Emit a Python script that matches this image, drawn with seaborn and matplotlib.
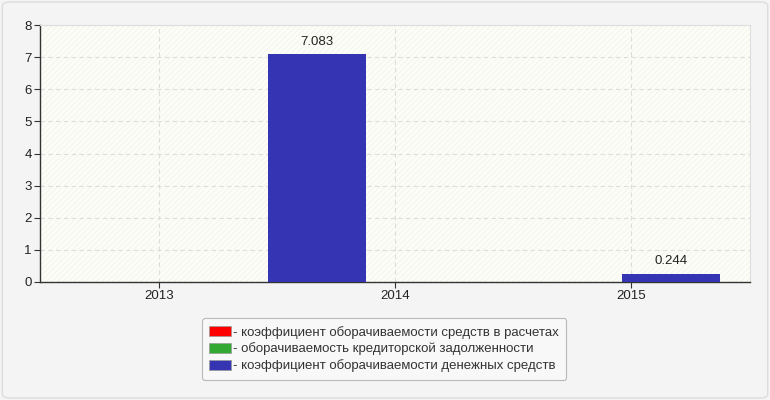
import matplotlib
matplotlib.use("Agg")
import matplotlib.pyplot as plt
from matplotlib.patches import Rectangle, FancyBboxPatch
import seaborn as sns
import pandas as pd

years = ["2013", "2014", "2015"]
series_names = [
    "- коэффициент оборачиваемости средств в расчетах",
    "- оборачиваемость кредиторской задолженности",
    "- коэффициент оборачиваемости денежных средств",
]
receivables_turnover = [0.0, 0.0, 0.0]
payables_turnover = [0.0, 0.0, 0.0]
cash_turnover = [0.0, 7.083, 0.244]
colors = ["#ff0000", "#33a933", "#3535b3"]

rows = []
for name, vals in zip(series_names, [receivables_turnover, payables_turnover, cash_turnover]):
    for y, v in zip(years, vals):
        rows.append({"year": y, "series": name, "value": v})
df = pd.DataFrame(rows)

sns.set_theme(style="white")
plt.rcParams["font.family"] = ["Liberation Sans", "DejaVu Sans"]
plt.rcParams["hatch.linewidth"] = 0.4

fig = plt.figure(figsize=(7.7, 4.0), dpi=100, facecolor="#f4f4f4")
fig.patches.append(FancyBboxPatch((0.003, 0.005), 0.994, 0.99, boxstyle="round,pad=0,rounding_size=0.01",
                                  transform=fig.transFigure, facecolor="#f4f4f4", edgecolor="#dcdcdc",
                                  lw=1, zorder=-10))
ax = fig.add_axes([0.052, 0.295, 0.922, 0.6425])
ax.set_facecolor("none")
ax.add_patch(Rectangle((0, 0), 1, 1, transform=ax.transAxes, facecolor="#fdfdf7",
                       edgecolor="#efefe9", hatch="//////", lw=0, zorder=-5))

sns.barplot(data=df, x="year", y="value", hue="series", hue_order=series_names,
            palette=colors, saturation=1, dodge=False, width=0.415, ax=ax, linewidth=0, zorder=3,
            legend=True, errorbar=None)

# per-year horizontal placement of bars as in the reference layout
shifts = [-0.33, -0.33, 0.17]
for cont in ax.containers:
    for i, p in enumerate(cont.patches):
        p.set_x(p.get_x() + shifts[i])

blue = ax.containers[2]
ax.bar_label(blue, labels=["" if v == 0 else f"{v:.3f}" for v in cash_turnover],
             padding=5, fontsize=9.5, color="#222222")

ax.set_xlim(-0.504, 2.504)
ax.set_ylim(0, 8)
ax.set_yticks(range(0, 9))
ax.set_xlabel("")
ax.set_ylabel("")
ax.grid(True, axis="both", color="#dddddd", linestyle=(0, (4, 3)), lw=0.8, zorder=0)
ax.set_axisbelow(True)
for s in ["top", "right"]:
    ax.spines[s].set_color("#dddddd")
    ax.spines[s].set_linewidth(0.8)
for s in ["left", "bottom"]:
    ax.spines[s].set_color("#333333")
    ax.spines[s].set_linewidth(1.0)
ax.tick_params(axis="both", which="both", length=4, width=0.8, color="#333333",
               labelsize=9.5, labelcolor="#222222", direction="out", left=True, bottom=True, pad=2)

ax.legend_.remove()
handles = [Rectangle((0, 0), 1, 1, facecolor=c, edgecolor="#999999", lw=0.5) for c in colors]
leg = fig.legend(handles, series_names, loc="center", bbox_to_anchor=(0.499, 0.1275),
                 frameon=True, fontsize=9.5, handlelength=1.6, handleheight=0.75, handletextpad=0.2,
                 labelspacing=0.3, borderpad=0.55, fancybox=True, labelcolor="#333333")
leg.get_frame().set_facecolor("#fafafa")
leg.get_frame().set_edgecolor("#aaaaaa")
leg.get_frame().set_linewidth(0.8)

fig.savefig("out.png", dpi=100, facecolor=fig.get_facecolor())
